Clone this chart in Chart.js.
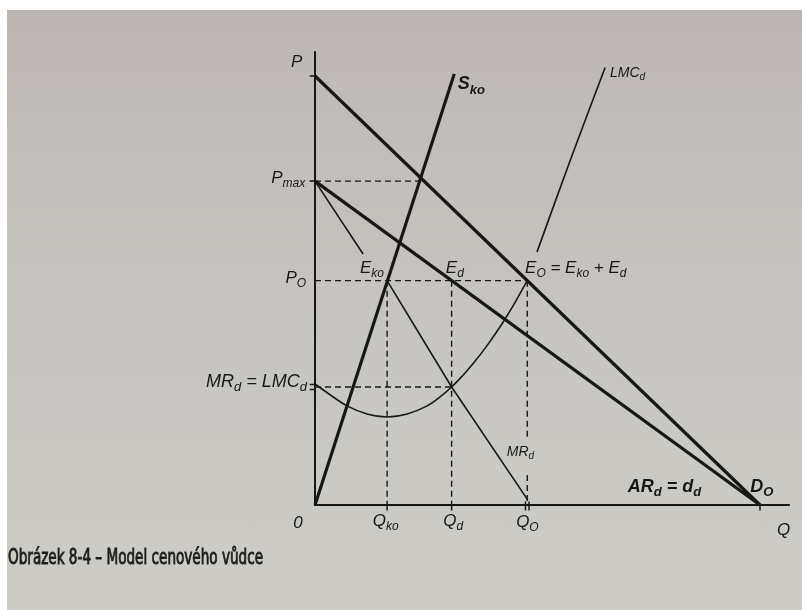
<!DOCTYPE html>
<html>
<head>
<meta charset="utf-8">
<script src="https://cdn.jsdelivr.net/npm/chart.js@4.4.1/dist/chart.umd.min.js"></script>
<style>
  html, body { margin: 0; padding: 0; background: #ffffff; }
  #paper {
    position: absolute; left: 7px; top: 10px; right: 0; bottom: 0;
    background: linear-gradient(180deg, #bdb7b4 0%, #c4c1bd 35%, #c9c8c3 70%, #cdccc7 100%);
  }
  #wrap { position: absolute; left: 0; top: 0; width: 802px; height: 610px; }
</style>
</head>
<body>
<div id="paper"></div>
<div id="wrap"><canvas id="chart" width="802" height="610"></canvas></div>
<script>
// key levels of the diagram (Q and P in chart units)
const qKo = 16.2, qD = 30.7, qO = 47.7, qMax = 100;
const pTop = 100, pMax = 75.5, pO = 52.3, pMrLmc = 27.5;
const GAP = {x: 0, y: null};

// curves
const demandO = [{x: 0, y: pTop}, {x: qMax, y: 0}];
const demandD = [{x: 0, y: pMax}, {x: qMax, y: 0}];
const supplyKo = [{x: 0, y: 0}, {x: 31.3, y: 100.5}];
const mrD = [{x: 0, y: pMax}, {x: 10.8, y: 58.5}, GAP, {x: qKo, y: pO}, {x: qD, y: pMrLmc}, {x: 47.8, y: 1.2}];
const lmcQ = [0, 3.4, 7.2, 11.7, 16.2, 20.7, 25.2, 28.1, qD, 33.3, 35.5, 38.9, 42.0, 44.5, qO];
const lmcP = [28.2, 25.7, 23.1, 21.2, 20.5, 21.2, 23.1, 25.2, pMrLmc, 30.3, 32.9, 37.5, 42.2, 46.4, pO];
const lmcLow = lmcQ.map((q, i) => ({x: q, y: lmcP[i]}));
const lmcHigh = [{x: 49.9, y: 59.0}, {x: 57.8, y: 81.6}, {x: 65.2, y: 102}];

// axes, guides and ticks
const axes = [{x: 0, y: 105.8}, {x: 0, y: 0}, {x: 106.7, y: 0}];
const guides = [
  {x: 0, y: pMax}, {x: 23.8, y: pMax}, GAP,
  {x: 0, y: pO}, {x: qO, y: pO}, GAP,
  {x: 0, y: pMrLmc}, {x: qD, y: pMrLmc}, GAP,
  {x: qKo, y: pO}, {x: qKo, y: 0}, GAP,
  {x: qD, y: pO}, {x: qD, y: 0}, GAP,
  {x: qO, y: pO}, {x: qO, y: 15.2}, GAP,
  {x: qO, y: 7.0}, {x: qO, y: 0}
];
const ticks = [
  {x: -1.2, y: pTop}, {x: 0, y: pTop}, GAP,
  {x: -1.2, y: pMax}, {x: 0, y: pMax}, GAP,
  {x: -1.2, y: pMrLmc + 0.6}, {x: 0, y: pMrLmc + 0.6}, GAP,
  {x: -1.2, y: pMrLmc - 0.6}, {x: 0, y: pMrLmc - 0.6}, GAP,
  {x: qKo, y: 0}, {x: qKo, y: -1.3}, GAP,
  {x: qD, y: 0}, {x: qD, y: -1.3}, GAP,
  {x: qO - 0.4, y: 0.8}, {x: qO - 0.4, y: -1.3}, GAP,
  {x: qO + 0.4, y: 0.8}, {x: qO + 0.4, y: -1.3}, GAP,
  {x: qMax, y: 0}, {x: qMax, y: -1.3}
];

// text labels: [text, q, p, align, style]
const labels = [
  ["P", -5.4, 103.3, "left", "n"],
  ["P_{max}", -2.2, 76.2, "right", "n"],
  ["P_{O}", -2.0, 52.9, "right", "n"],
  ["MR_{d} = LMC_{d}", -1.8, 28.7, "right", "w"],
  ["E_{ko}", 10.1, 55.2, "left", "n"],
  ["E_{d}", 29.4, 55.2, "left", "n"],
  ["E_{O} = E_{ko} + E_{d}", 47.2, 55.2, "left", "n"],
  ["S_{ko}", 32.1, 98.1, "left", "b"],
  ["LMC_{d}", 66.3, 100.7, "left", "s"],
  ["MR_{d}", 43.1, 12.4, "left", "s"],
  ["AR_{d} = d_{d}", 70.3, 4.2, "left", "b"],
  ["D_{O}", 97.8, 4.2, "left", "b"],
  ["0", -4.9, -4.2, "left", "n"],
  ["Q_{ko}", 13.0, -3.7, "left", "n"],
  ["Q_{d}", 28.8, -3.7, "left", "n"],
  ["Q_{O}", 45.2, -4.0, "left", "n"],
  ["Q", 103.8, -5.8, "left", "n"]
];
const caption = "Obrázek 8-4 – Model cenového vůdce";

const ink = "#171717";

function line(data, width, dash, extra) {
  return Object.assign({
    data: data, showLine: true, borderColor: ink, borderWidth: width,
    borderDash: dash || [], pointRadius: 0, spanGaps: false, tension: 0
  }, extra || {});
}

function parts(txt) {
  const out = [];
  const re = /_\{([^}]*)\}/g;
  let last = 0, m;
  while ((m = re.exec(txt)) !== null) {
    if (m.index > last) out.push([txt.slice(last, m.index), false]);
    out.push([m[1], true]);
    last = re.lastIndex;
  }
  if (last < txt.length) out.push([txt.slice(last), false]);
  return out;
}

const textPlugin = {
  id: "texts",
  afterDatasetsDraw(chart) {
    const ctx = chart.ctx, sx = chart.scales.x, sy = chart.scales.y;
    ctx.save();
    ctx.fillStyle = ink;
    ctx.textBaseline = "middle";
    labels.forEach(([txt, q, p, align, st]) => {
      const size = st === "s" ? 14 : (st === "b" ? 18 : (st === "w" ? 18 : 17));
      const w = st === "b" ? "bold " : "";
      const big = "italic " + w + size + "px 'Liberation Sans', Arial, sans-serif";
      const small = "italic " + w + Math.round(size * 0.72) + "px 'Liberation Sans', Arial, sans-serif";
      const ps = parts(txt);
      let total = 0;
      ps.forEach(([t, sub]) => { ctx.font = sub ? small : big; total += ctx.measureText(t).width; });
      let x = sx.getPixelForValue(q);
      const y = sy.getPixelForValue(p);
      if (align === "right") x -= total;
      ps.forEach(([t, sub]) => {
        ctx.font = sub ? small : big;
        ctx.fillText(t, x, sub ? y + size * 0.32 : y);
        x += ctx.measureText(t).width;
      });
    });
    // caption under the figure
    ctx.font = "22px 'DejaVu Sans Condensed', 'DejaVu Sans', sans-serif";
    ctx.textBaseline = "alphabetic";
    ctx.fillStyle = "#1e1e1e";
    ctx.strokeStyle = "#1e1e1e";
    ctx.lineWidth = 0.9;
    const cw = ctx.measureText(caption).width;
    ctx.translate(8, 564);
    ctx.scale(255 / cw, 1);
    ctx.fillText(caption, 0, 0);
    ctx.strokeText(caption, 0, 0);
    ctx.restore();
  }
};

new Chart(document.getElementById("chart"), {
  type: "scatter",
  data: {
    datasets: [
      line(axes, 2),
      line(demandO, 3.2),
      line(demandD, 3.2),
      line(supplyKo, 3.2),
      line(mrD, 1.6),
      line(lmcLow, 1.6, [], {tension: 0.4}),
      line(lmcHigh, 1.6, [], {tension: 0.4}),
      line(guides, 1.4, [6, 4]),
      line(ticks, 1.5)
    ]
  },
  options: {
    responsive: false,
    animation: false,
    layout: { padding: 0 },
    plugins: { legend: { display: false }, tooltip: { enabled: false } },
    scales: {
      x: { type: "linear", display: false, min: -70.79, max: 109.44 },
      y: { type: "linear", display: false, min: -24.48, max: 117.72 }
    }
  },
  plugins: [textPlugin]
});
</script>
</body>
</html>
